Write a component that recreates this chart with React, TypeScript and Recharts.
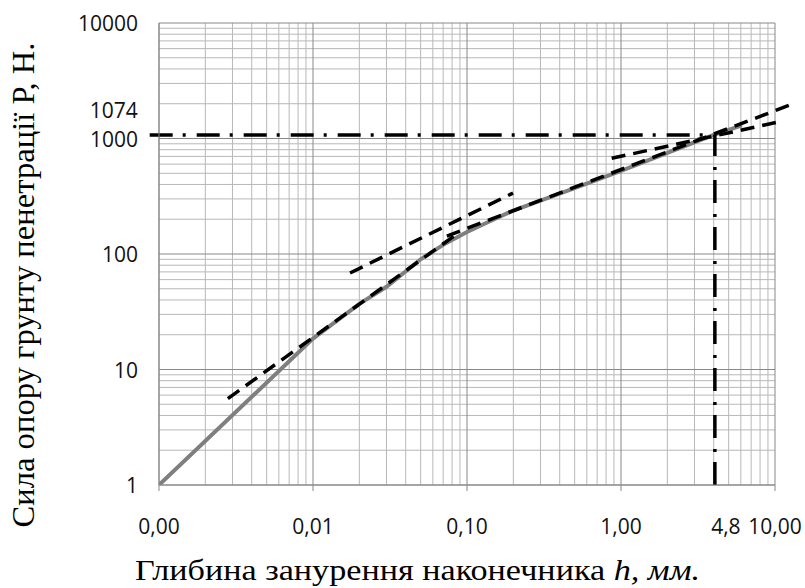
import React from 'react';
import { LineChart, Line, XAxis, YAxis, CartesianGrid, ReferenceLine } from 'recharts';

// measured penetration curve (h, mm -> P, N)
const curveH = [0.001, 0.01, 0.02, 0.03, 0.05, 0.07, 0.1, 0.15, 0.2, 0.3, 0.5, 1, 2, 4, 6.1];
const curveP = [1, 18.5, 37, 52, 90, 120, 155, 200, 238, 290, 372, 525, 750, 1074, 1300];

// dashed tangent segments: [h1, p1, h2, p2]
const tangentLow = [0.0028, 5.6, 0.086, 149];
const tangentMid = [0.0174, 68.5, 0.199, 337];
const tangentLong = [0.074, 143, 12.5, 1950];
const tangentTop = [0.87, 674, 10.8, 1400];

// dash-dot marker lines
const critH = 4.07;
const critP = 1074;
const critStartH = 0.00087;
const critLabel = '1074';

const xTicks = [0.001, 0.01, 0.1, 1, 4.8, 10];
const xTickLabels = ['0,00', '0,01', '0,10', '1,00', '4,8', '10,00'];
const yTicks = [1, 10, 100, 1000, 10000];

const xMajor = [0.001, 0.01, 0.1, 1, 10];
const yMajor = [1, 10, 100, 1000, 10000];
const minorsOf = (decades: number[]) =>
  decades.slice(0, -1).flatMap((d) => [2, 3, 4, 5, 6, 7, 8, 9].map((k) => k * d));

const data = curveH.map((h, i) => ({ h, p: curveP[i] }));

const isDecade = (v: number) => Math.abs(Math.log10(v) - Math.round(Math.log10(v))) < 1e-9;

const XTick = (props: any) => {
  const { x, y, payload } = props;
  const label = xTickLabels[xTicks.indexOf(payload.value)];
  return (
    <g>
      {isDecade(payload.value) && <line x1={x} x2={x} y1={y} y2={y + 6} stroke="#888" />}
      <text
        x={x}
        y={y + 48.5}
        textAnchor="middle"
        fontFamily="'Open Sans', sans-serif"
        fontSize={21}
        fill="#111"
      >
        {label}
      </text>
    </g>
  );
};

const YTick = (props: any) => {
  const { x, y, payload } = props;
  return (
    <text x={x - 21} y={y + 8} textAnchor="end" fontFamily="'Open Sans', sans-serif" fontSize={21} fill="#111">
      {payload.value}
    </text>
  );
};

const seg = (t: number[]) => [
  { x: t[0], y: t[1] },
  { x: t[2], y: t[3] },
];

const dashed = { stroke: '#000', strokeWidth: 3.5, strokeDasharray: '14 8', ifOverflow: 'visible' as const };
const dashDot = { stroke: '#000', strokeWidth: 3.5, strokeDasharray: '23 10 3 11', ifOverflow: 'visible' as const };

export default function App() {
  return (
    <div style={{ position: 'absolute', left: 0, top: 0, width: 805, height: 588, background: '#fff' }}>
      <LineChart width={805} height={588} data={data} margin={{ top: 23, right: 30, left: 0, bottom: 0 }}>
        <CartesianGrid stroke="#b8b8b8" verticalValues={minorsOf(xMajor)} horizontalValues={minorsOf(yMajor)} />
        <CartesianGrid stroke="#888" verticalValues={xMajor} horizontalValues={yMajor} />
        <XAxis
          dataKey="h"
          type="number"
          scale="log"
          domain={[0.001, 10]}
          allowDataOverflow
          ticks={xTicks}
          interval={0}
          tickSize={0}
          tickMargin={0}
          tickLine={false}
          tick={<XTick />}
          axisLine={{ stroke: '#888' }}
          height={103}
        />
        <YAxis
          type="number"
          scale="log"
          domain={[1, 10000]}
          allowDataOverflow
          ticks={yTicks}
          interval={0}
          tickSize={0}
          tickMargin={0}
          tickLine={false}
          tick={<YTick />}
          axisLine={{ stroke: '#888' }}
          width={159}
        />
        <Line
          dataKey="p"
          type="linear"
          stroke="#7f7f7f"
          strokeWidth={4}
          dot={false}
          isAnimationActive={false}
        />
        <ReferenceLine segment={seg(tangentLow)} {...dashed} />
        <ReferenceLine segment={seg(tangentMid)} {...dashed} />
        <ReferenceLine segment={seg(tangentLong)} {...dashed} />
        <ReferenceLine segment={seg(tangentTop)} {...dashed} />
        <ReferenceLine
          segment={[{ x: critStartH, y: critP }, { x: critH, y: critP }]}
          {...dashDot}
          label={(p: any) => (
            <text
              x={p.viewBox.x - 12}
              y={p.viewBox.y - 17}
              textAnchor="end"
              fontFamily="'Open Sans', sans-serif"
              fontSize={21}
              fill="#111"
            >
              {critLabel}
            </text>
          )}
        />
        <ReferenceLine segment={[{ x: critH, y: 1 }, { x: critH, y: critP }]} {...dashDot} />
      </LineChart>
      <svg width={805} height={588} style={{ position: 'absolute', left: 0, top: 0, pointerEvents: 'none' }}>
        <text
          x={417.5}
          y={580}
          textAnchor="middle"
          fontFamily="'Liberation Serif', 'Times New Roman', serif"
          fontSize={29}
          fill="#000"
          textLength={565}
          lengthAdjust="spacingAndGlyphs"
        >
          Глибина занурення наконечника <tspan fontStyle="italic">h, мм.</tspan>
        </text>
        <text
          transform="translate(34, 285) rotate(-90)"
          textAnchor="middle"
          fontFamily="'Liberation Serif', 'Times New Roman', serif"
          fontSize={31}
          fill="#000"
          textLength={485}
          lengthAdjust="spacingAndGlyphs"
        >
          Сила опору грунту пенетрації Р, Н.
        </text>
      </svg>
    </div>
  );
}
